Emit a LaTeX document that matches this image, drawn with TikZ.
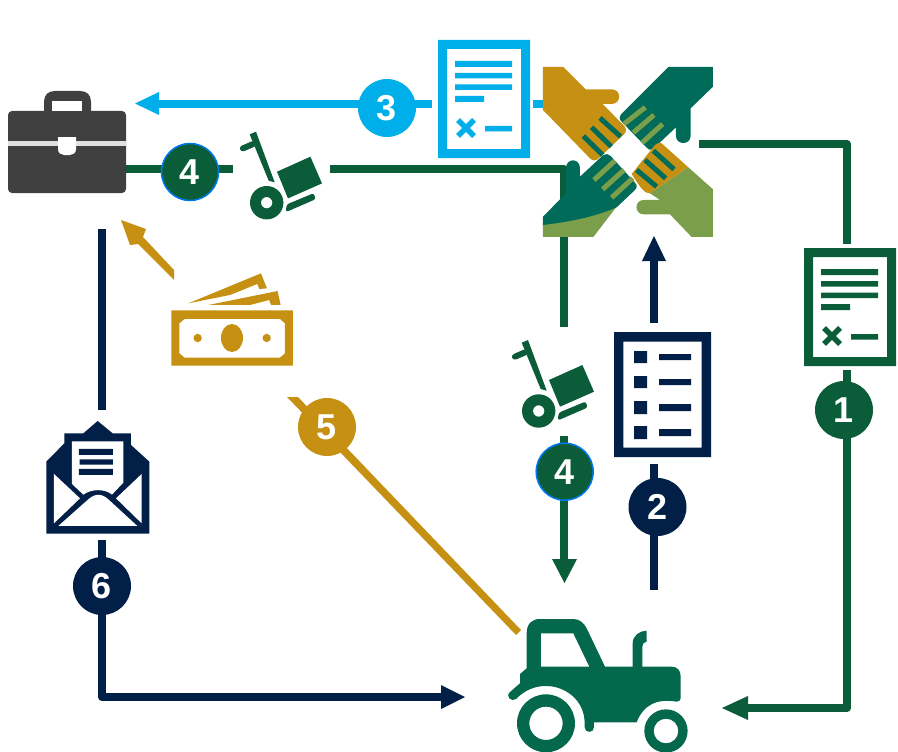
\documentclass[tikz,border=0pt]{standalone}
\usepackage{fontspec}
\setmainfont{Liberation Sans}
\definecolor{grn}{HTML}{0B5C38}
\definecolor{teal}{HTML}{03684C}
\definecolor{hteal}{HTML}{006B58}
\definecolor{navy}{HTML}{011F47}
\definecolor{sky}{HTML}{00AEEA}
\definecolor{gold}{HTML}{C69112}
\definecolor{lgrn}{HTML}{7A9E49}
\definecolor{brief}{HTML}{404040}
\tikzset{
  badge/.style={circle,fill=#1,minimum size=58pt,inner sep=0pt,text=white,font=\fontsize{36}{36}\selectfont\bfseries},
  conn/.style={draw=#1,line width=8pt,line join=round},
  tip/.style={fill=#1},
  pics/docicon/.style={code={
    \fill[#1,even odd rule] (0,0) rectangle (92,118) (9,9) rectangle (83,109);
    \fill[#1] (17,21) rectangle (74,27) (17,33) rectangle (74,38.5) (17,44.5) rectangle (74,50) (17,56) rectangle (46,62) (47,86) rectangle (74,91.5);
    \draw[#1,line width=5.5pt] (20,80) -- (36,96) (20,96) -- (36,80);
  }},
  pics/truckicon/.style={code={
    \fill[grn,even odd rule] (0,0) circle (16.7) (0,0) circle (5.7);
    \fill[grn] (-17,-68.3) -- (-10.7,-71) -- (8,-20.3) -- (2,-22) -- cycle;
    \draw[grn,line width=6pt,line cap=round] (-23.7,-54.3) -- (-14,-58.5);
    \fill[grn] (10.3,-31) -- (43.7,-46) -- (55.3,-19.3) -- (21.3,-4.3) -- cycle;
    \fill[grn,rounded corners=2.5pt] (20,1.7) -- (47,-9.5) -- (49,-3.5) -- (19,9.5) -- cycle;
  }}
}
\begin{document}
\begin{tikzpicture}[x=1pt,y=-1pt]
\useasboundingbox (0,0) rectangle (898,752);
% connector end points
\coordinate (g1a) at (699,144); \coordinate (g1b) at (847,144); \coordinate (g1c) at (847,244);
\coordinate (g1d) at (847,370); \coordinate (g1e) at (847,708); \coordinate (g1f) at (746,708);
\coordinate (s3a) at (432,104); \coordinate (s3b) at (157,104); \coordinate (s3c) at (533,104); \coordinate (s3d) at (543,104);
\coordinate (g4a) at (126,169); \coordinate (g4b) at (233,169); \coordinate (g4c) at (330,169); \coordinate (g4d) at (564,169); \coordinate (g4e) at (564,327);
\coordinate (g4f) at (564,436); \coordinate (g4g) at (564,562);
\coordinate (n2a) at (654,590); \coordinate (n2b) at (654,464); \coordinate (n2c) at (654,323); \coordinate (n2d) at (654,259);
\coordinate (n6a) at (102,229); \coordinate (n6b) at (102,410); \coordinate (n6c) at (102,540); \coordinate (n6d) at (102,697); \coordinate (n6e) at (443,697);
% connectors
\draw[conn=grn] (g1a) -- (g1b) -- (g1c);
\draw[conn=grn] (g1d) -- (g1e) -- (g1f);
\fill[tip=grn] (722,708) -- (748,696) -- (748,720) -- cycle;
\draw[conn=sky] (s3a) -- (s3b);
\draw[conn=sky] (s3c) -- (s3d);
\fill[tip=sky] (135,103.5) -- (159,92) -- (159,115) -- cycle;
\draw[conn=grn] (g4a) -- (g4b);
\draw[conn=grn] (g4c) -- (g4d) -- (g4e);
\draw[conn=grn] (g4f) -- (g4g);
\fill[tip=grn] (564.5,583) -- (552,559) -- (577,559) -- cycle;
\draw[conn=navy] (n2a) -- (n2b);
\draw[conn=navy] (n2c) -- (n2d);
\fill[tip=navy] (654,236) -- (642,261) -- (666,261) -- cycle;
\draw[conn=navy] (n6a) -- (n6b);
\draw[conn=navy] (n6c) -- (n6d) -- (n6e);
\fill[tip=navy] (465,697) -- (441,685) -- (441,709) -- cycle;
% gold connectors
\fill[gold] (174,270) -- (174,280) -- (138,244) -- (130,245) -- (121,220) -- (146,229) -- (143,237) -- cycle;
\fill[gold] (287,397) -- (298,397) -- (521,630) -- (516,635) -- cycle;
% briefcase
\fill[brief,rounded corners=4pt] (8,111) rectangle (126,193);
\fill[brief] (44,112) -- (44,102) .. controls (44,95) and (48,91) .. (55,91) -- (80,91) .. controls (87,91) and (91,95) .. (91,102) -- (91,112) -- cycle;
\fill[white] (52,101) rectangle (82,111);
\fill[white!88!black] (8,140.5) rectangle (126,146);
\fill[white] (58,137) -- (76,137) -- (76,149) .. controls (76,153) and (73,155) .. (70,155) -- (64,155) .. controls (61,155) and (58,153) .. (58,149) -- cycle;
% documents
\pic at (438,40) {docicon=sky};
\pic at (804,248) {docicon=grn};
% checklist
\fill[navy,even odd rule] (614,332) rectangle (711,457) (623.3,341.5) rectangle (701.7,447.5);
\fill[navy] (634,351) rectangle (647,363) (634,376) rectangle (647,388) (634,401) rectangle (647,414) (634,426) rectangle (647,439);
\fill[navy] (659,354) rectangle (691,360) (659,379) rectangle (691,385) (659,404) rectangle (691,411) (659,429) rectangle (691,436);
% hand trucks
\pic at (266.7,202.7) {truckicon};
\pic at (538.7,411) {truckicon};
% hands
\begin{scope}[shift={(420,30)},x=.3333pt,y=-.3333pt]
\fill[gold] (369,111) -- (430,111) -- (497,178) -- (575,178) .. controls (605,178) and (605,222) .. (575,222) -- (548,222) -- (612,287) .. controls (620,295) and (620,305) .. (612,313) -- (535,386) .. controls (527,393) and (518,393) .. (510,385) -- (369,240) -- cycle;
\fill[hteal] (745,111) -- (879,111) -- (879,170) -- (812,235) -- (812,318) .. controls (812,346) and (768,346) .. (768,318) -- (768,292) -- (698,358) .. controls (690,362) and (685,358) .. (680,353) -- (605,275) .. controls (597,267) and (597,260) .. (603,253) -- cycle;
\fill[gold] (725,340) -- (805,412) -- (690,490) .. controls (675,490) and (665,480) .. (635,432) -- (705,345) .. controls (712,338) and (718,338) .. (725,340) -- cycle;
\fill[lgrn] (805,412) -- (879,478) -- (879,621) -- (815,621) -- (750,553) -- (672,553) .. controls (642,553) and (642,510) .. (672,510) -- (720,510) -- (690,490) -- cycle;
\fill[lgrn] (369,580) .. controls (450,572) and (520,560) .. (590,530) -- (520,621) -- (369,621) -- cycle;
\fill[hteal] (369,560) -- (438,490) -- (438,415) .. controls (438,383) and (480,383) .. (480,415) -- (480,440) -- (550,375) .. controls (558,370) and (565,372) .. (572,378) -- (645,458) .. controls (652,466) and (652,472) .. (645,480) -- (590,532) .. controls (520,562) and (450,575) .. (369,585) -- cycle;
\begin{scope}[line width=5pt]
\draw[lgrn] (612,282) -- (676,232) (640,308) -- (702,255) (667,338) -- (728,282);
\draw[hteal] (490,318) -- (548,375) (515,292) -- (574,350) (540,264) -- (602,320);
\draw[hteal] (650,420) -- (710,470) (675,390) -- (737,445) (700,362) -- (762,418);
\draw[lgrn] (522,450) -- (585,392) (548,478) -- (612,420) (575,503) -- (638,445);
\end{scope}
\end{scope}
% money
\begin{scope}[shift={(30,260)},x=.3333pt,y=-.3333pt]
\fill[gold,even odd rule] (424,151) rectangle (789,317) (464,177) -- (750,177) -- (765,190) -- (765,280) -- (750,293) -- (464,293) -- (448,280) -- (448,190) -- cycle;
\fill[gold] (606,234) ellipse [x radius=33,y radius=42];
\fill[gold] (503,234) circle [radius=12.5];
\fill[gold] (710,234) circle [radius=12.5];
\fill[gold] (475,130) -- (693,40) -- (711,85) -- (688,87) -- (682,72) -- (600,105) -- cycle;
\fill[gold] (535,135) -- (743,93) -- (752,135) -- (723,135) -- (718,120) -- (660,135) -- cycle;
\end{scope}
% envelope
\begin{scope}[shift={(30,260)},x=.3333pt,y=-.3333pt]
\fill[navy] (49,605) -- (103,550) -- (103,520) -- (160,520) -- (203,483) -- (248,520) -- (303,520) -- (303,555) -- (358,605) -- (358,821) -- (49,821) -- cycle;
\fill[white] (126,544) -- (280,544) -- (280,668) -- (246,704) .. controls (225,686) and (185,686) .. (160,704) -- (126,672) -- cycle;
\fill[white] (72,642) -- (150,715) -- (72,790) -- cycle;
\fill[white] (335,642) -- (258,715) -- (335,790) -- cycle;
\fill[white] (85,798) -- (322,798) -- (235,718) .. controls (215,700) and (195,700) .. (175,718) -- cycle;
\fill[navy] (147,567) rectangle (249,585) (149,598) rectangle (249,614) (147,627) rectangle (249,645);
\end{scope}
% tractor
\begin{scope}[shift={(490,600)},x=.3333pt,y=-.3333pt]
\fill[teal,even odd rule] (90,250) -- (90,222) -- (110,205) -- (110,100) .. controls (110,72) and (125,57) .. (150,57) -- (250,57) .. controls (270,57) and (282,70) .. (290,85) -- (345,200) -- (428,200) -- (428,130) .. controls (428,108) and (448,92) .. (470,92) -- (470,125) .. controls (462,125) and (457,132) .. (457,140) -- (457,200) -- (545,200) .. controls (562,200) and (572,212) .. (572,228) -- (572,295) .. controls (572,302) and (566,305) .. (560,305) .. controls (500,295) and (460,315) .. (440,367) -- (312,367) -- (312,382) .. controls (312,400) and (284,400) .. (284,382) -- (284,370) .. controls (284,300) and (225,258) .. (168,258) .. controls (135,258) and (105,270) .. (78,297) .. controls (65,308) and (45,290) .. (60,276) -- cycle
(153,100) -- (250,100) -- (298,200) -- (153,200) -- cycle;
\fill[teal,even odd rule] (168,370) circle [radius=87] (168,370) circle [radius=50];
\fill[teal,even odd rule] (528,393) circle [radius=65] (528,393) circle [radius=37];
\end{scope}
% badges
\node[badge=grn] (b1) at (844,410) {1};
\node[badge=navy] (b2) at (657.5,507) {2};
\node[badge=sky] (b3) at (387,108) {3};
\node[badge=grn,draw=sky!70!blue,line width=1.5pt,minimum size=57pt] (b4a) at (190,172) {4};
\node[badge=grn,draw=sky!70!blue,line width=1.5pt,minimum size=57pt] (b4b) at (564.7,471.7) {4};
\node[badge=gold] (b5) at (327,427) {5};
\node[badge=navy] (b6) at (102,586) {6};
\end{tikzpicture}
\end{document}
